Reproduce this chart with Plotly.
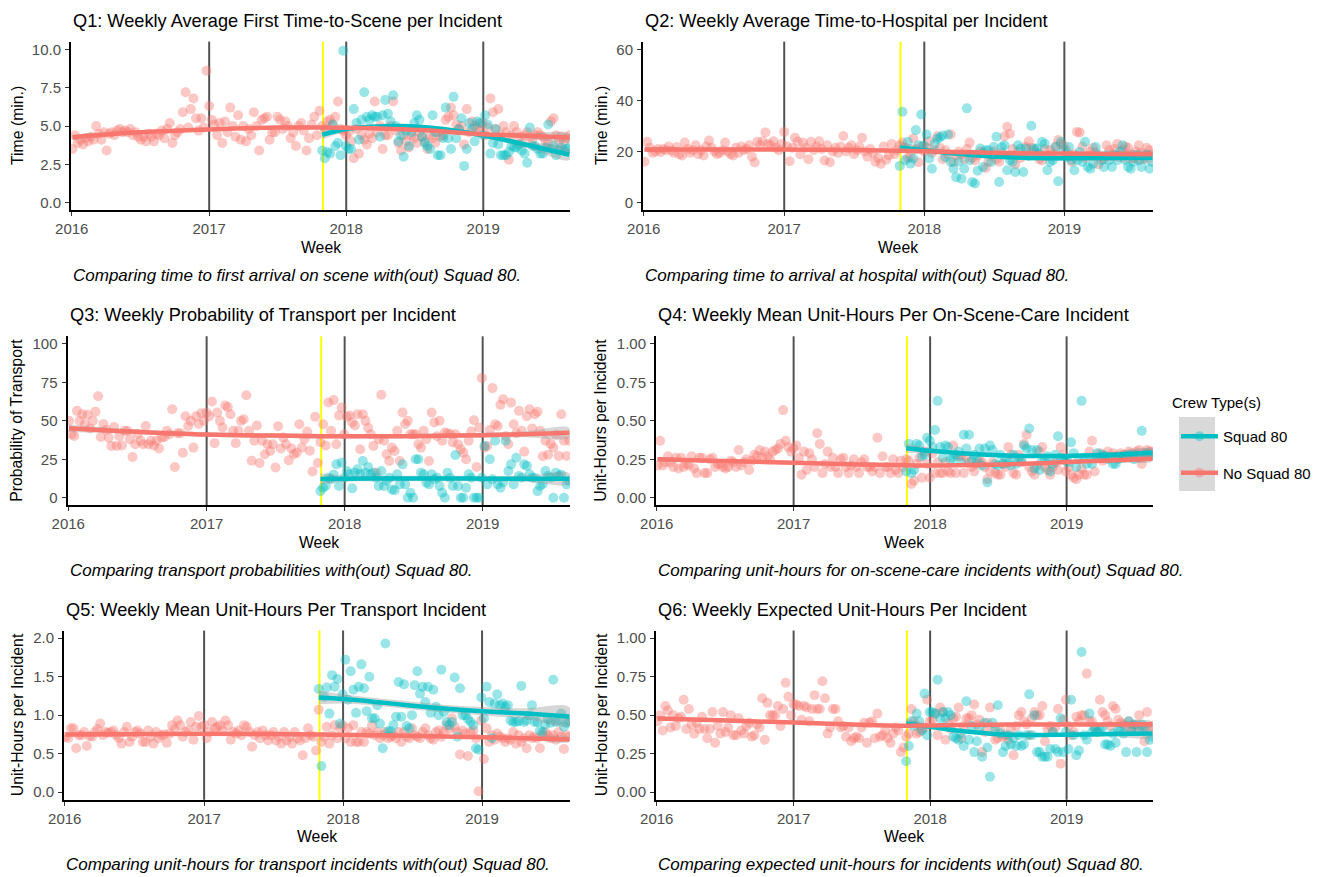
import numpy as np
import pandas as pd
import plotly.graph_objects as go

# ---------------- data (weekly values) ----------------
week_start = "2016-01-03"
n_weeks = 190
squad_start_index = 95          # first week with Squad 80 data
squad_start_date = "2017-10-31"
year_ticks = ["2016-01-01", "2017-01-01", "2018-01-01", "2019-01-01"]
year_labels = ["2016", "2017", "2018", "2019"]
year_lines = ["2017-01-01", "2018-01-01", "2019-01-01"]

q1_no_squad = [3.5, 4.4, 3.9, 4.1, 3.8, 4.2, 4.0, 4.3, 4.1, 5.0,
               4.5, 4.1, 4.6, 3.4, 4.5, 4.6, 4.4, 4.7, 4.8, 4.6,
               4.7, 4.6, 4.8, 4.4, 4.6, 4.3, 4.1, 4.3, 4.0, 4.5,
               4.3, 4.0, 4.5, 4.4, 4.7, 4.2, 4.8, 5.2, 3.9, 4.4,
               4.6, 4.8, 5.9, 7.2, 4.9, 6.1, 6.8, 5.5, 4.7, 5.5, 4.9, 8.6,
               6.3, 5.4, 5.1, 4.4, 5.2, 3.9, 5.3, 4.6, 6.2, 5.0,
               4.3, 5.7, 4.1, 5.0, 4.0, 4.8, 4.4, 5.9, 5.0, 3.4,
               5.4, 5.5, 5.6, 4.1, 4.6, 4.6, 5.6, 5.4, 4.8, 5.3,
               5.0, 4.2, 4.6, 3.7, 5.0, 5.2, 4.7, 3.4, 4.2, 5.1,
               5.6, 4.4, 6.0, 5.0, 4.8, 5.3, 5.4, 5.1, 5.6, 6.6, 4.8, 4.7,
               4.4, 4.6, 4.0, 2.9, 4.8, 3.2, 4.4, 4.1, 3.8, 4.5,
               4.2, 6.6, 4.6, 5.0, 3.5, 4.4, 4.4, 5.0, 6.6, 4.7,
               3.9, 3.4, 4.4, 4.0, 3.6, 4.4, 4.2, 3.9, 4.6, 4.3,
               4.0, 3.5, 4.4, 4.2, 3.9, 4.6, 4.3, 4.4, 5.4, 5.6, 6.2, 5.7,
               5.1, 4.8, 5.0, 3.8, 6.1, 4.6, 5.3, 5.0, 4.9, 4.7,
               5.2, 4.4, 4.9, 6.8, 5.9, 4.8, 6.1, 4.4, 5.0, 4.6,
               2.8, 4.4, 5.0, 4.6, 4.3, 3.9, 4.4, 4.6, 4.3, 4.1,
               4.4, 4.6, 4.4, 4.3, 4.0, 3.9, 5.3, 5.5, 4.4, 3.9, 4.3, 4.0, 4.2, 4.4]
q1_squad = [3.4, 2.9, 3.3, 3.2, 5.1, 3.7, 3.9, 3.1, 9.9, 3.7,
            3.5, 3.5, 6.1, 5.2, 4.1, 5.4, 7.2, 5.6, 5.4, 5.7,
            5.6, 5.6, 4.3, 5.7, 6.7, 5.8, 5.3, 7.0, 5.0, 4.0,
            4.4, 3.0, 4.7, 3.7, 4.6, 5.2, 5.7, 5.4, 4.3, 3.9,
            3.7, 3.5, 5.7, 4.6, 3.1, 3.1, 4.2, 6.2, 4.2, 3.5,
            6.9, 4.2, 4.8, 5.5, 2.4, 3.5, 5.2, 4.8, 4.0, 5.3,
            5.2, 4.4, 5.7, 5.1, 3.2, 3.9, 4.8, 3.8, 3.1, 3.1,
            3.1, 3.3, 3.7, 3.6, 3.6, 3.8, 3.4, 3.2, 2.6, 4.9,
            3.7, 3.7, 3.5, 3.2, 3.2, 3.6, 5.1, 3.5, 3.7, 3.1, 3.4, 3.6, 3.4, 3.5, 3.6]

q2_no_squad = [16.0, 23.8, 21.5, 19.5, 20.0, 21.0, 19.8, 21.0, 20.5, 22.0,
               20.3, 19.5, 21.8, 19.0, 18.5, 23.5, 21.0, 19.5, 20.5, 22.5,
               19.0, 20.5, 18.5, 22.0, 24.3, 21.5, 20.0, 19.0, 19.5, 20.5,
               23.5, 20.0, 19.0, 18.5, 21.5, 19.5, 22.0, 20.5, 21.0, 22.5,
               18.0, 15.7, 23.8, 22.5, 24.0, 27.5, 23.0, 22.5, 24.0, 21.5, 20.5, 23.0,
               27.7, 22.0, 16.2, 21.5, 25.4, 23.8, 19.0, 23.5, 21.5, 17.0,
               23.8, 20.5, 22.0, 24.0, 21.0, 16.5, 22.5, 15.8, 20.0, 21.5,
               19.5, 22.0, 26.1, 20.0, 21.5, 22.5, 19.0, 20.5, 22.0, 25.4,
               20.0, 18.0, 21.0, 19.5, 16.0, 17.5, 15.2, 22.0, 16.8, 18.5,
               23.0, 19.0, 20.5, 22.5, 23.5, 21.5, 17.5, 18.0, 25.1, 21.0, 15.8, 22.0,
               20.0, 21.5, 24.0, 19.5, 20.5, 26.0, 21.5, 17.0, 20.5, 19.0,
               26.7, 15.8, 18.5, 20.0, 19.0, 17.0, 21.0, 23.5, 17.5, 16.5,
               18.5, 20.0, 19.5, 13.6, 16.0, 18.5, 20.0, 17.0, 16.0, 19.5,
               26.0, 29.7, 27.0, 21.0, 15.0, 20.0, 17.5, 18.5, 22.0, 24.0, 21.5, 20.5,
               19.0, 17.0, 16.5, 21.0, 18.5, 20.5, 19.0, 22.0, 24.5, 23.0,
               22.5, 20.5, 18.5, 16.0, 19.0, 27.7, 27.5, 22.0, 17.5, 18.5,
               20.0, 21.5, 19.5, 15.0, 18.0, 17.0, 22.5, 20.5, 19.0, 21.0,
               23.0, 18.5, 20.5, 22.0, 21.5, 19.0, 17.5, 20.0, 22.5, 19.5, 18.0, 21.5, 20.5, 19.0]
q2_squad = [14.4, 35.6, 16.6, 23.8, 15.3, 17.3, 28.4, 22.5, 34.5, 22.5,
            26.7, 17.3, 13.3, 23.0, 25.0, 25.6, 26.3, 17.8, 26.7, 15.9,
            13.3, 10.0, 16.1, 9.4, 13.3, 36.9, 16.6, 8.1, 7.5, 12.5,
            21.2, 14.0, 20.5, 20.5, 15.9, 21.8, 25.8, 8.1, 21.8, 22.5,
            12.7, 16.6, 15.9, 12.0, 22.5, 21.2, 12.0, 21.2, 18.3, 30.1,
            21.2, 21.2, 19.3, 23.8, 23.0, 12.7, 15.9, 16.6, 21.8, 8.4,
            23.8, 20.5, 17.9, 21.8, 16.6, 12.7, 16.6, 19.9, 15.9, 23.8,
            14.0, 13.3, 15.3, 21.8, 18.6, 16.6, 14.0, 18.6, 16.6, 14.0,
            18.6, 16.6, 19.9, 22.5, 16.6, 14.0, 13.3, 15.9, 18.6, 16.6, 14.0, 17.3, 18.6, 13.3, 15.9]

q3_no_squad = [50.0, 41.3, 40.2, 56.5, 50.0, 54.3, 47.8, 54.0, 45.0, 50.0,
               56.0, 66.0, 39.5, 48.0, 44.0, 39.1, 33.7, 46.0, 33.7, 40.0,
               34.0, 43.5, 43.5, 38.0, 26.5, 34.8, 41.3, 37.0, 34.8, 46.7,
               34.8, 37.0, 34.0, 37.0, 32.0, 39.1, 39.5, 43.5, 41.3, 57.6,
               20.0, 42.0, 42.0, 29.3, 53.0, 46.7, 50.0, 32.6, 53.0, 48.0, 55.0, 50.0,
               55.4, 53.0, 62.6, 35.5, 55.4, 50.0, 45.7, 60.0, 59.0, 54.3,
               43.5, 35.5, 43.5, 50.0, 51.0, 66.7, 43.5, 24.0, 37.0, 47.0,
               22.5, 37.0, 28.3, 34.8, 30.4, 34.8, 19.6, 46.5, 32.0, 39.1,
               34.8, 24.3, 32.0, 28.3, 29.3, 47.8, 32.6, 38.0, 43.0, 30.5,
               17.0, 52.6, 22.6, 36.0, 47.8, 34.0, 62.0, 43.5, 63.5, 34.8, 53.5, 58.7,
               41.3, 52.6, 53.5, 48.9, 47.0, 54.3, 31.5, 54.3, 50.0, 45.5,
               41.3, 33.7, 16.3, 38.0, 67.0, 37.0, 28.3, 23.9, 32.6, 30.4,
               43.5, 23.9, 55.4, 48.0, 50.0, 41.3, 41.3, 41.3, 34.8, 32.6,
               43.5, 38.0, 23.9, 55.4, 48.9, 40.0, 50.0, 37.0, 42.4, 42.0, 41.3, 36.0,
               41.3, 34.8, 31.5, 29.3, 25.0, 37.0, 43.0, 50.4, 20.0, 45.7,
               77.8, 32.6, 33.7, 44.1, 71.3, 47.8, 46.7, 60.4, 64.0, 40.0,
               34.8, 62.0, 47.8, 42.0, 56.5, 43.5, 30.0, 53.0, 57.6, 45.0,
               54.3, 56.0, 43.5, 27.0, 37.0, 28.0, 35.0, 32.6, 41.0, 27.2, 54.3, 37.0, 27.2, 37.0]
q3_squad = [4.3, 6.5, 7.6, 13.0, 12.0, 15.0, 21.7, 7.6, 22.8, 13.0, 17.4,
            15.2, 6.1, 16.3, 18.5, 15.5, 23.9, 16.3, 20.0, 15.2, 16.3,
            13.0, 7.6, 17.4, 7.6, 10.9, 13.0, 5.4, 4.8, 15.2, 8.7,
            21.7, 8.7, 0.0, 3.3, 0.0, 25.0, 25.0, 16.3, 15.2, 9.8,
            8.7, 15.2, 12.0, 13.0, 7.6, 3.3, 0.0, 16.3, 13.0, 7.6,
            27.8, 7.6, 0.0, 0.0, 6.5, 15.2, 13.0, 0.0, 0.0, 0.0,
            13.0, 33.7, 8.7, 25.0, 12.0, 37.0, 8.7, 6.5, 10.0, 37.0,
            17.4, 21.7, 8.7, 26.0, 14.1, 13.0, 21.7, 20.7, 15.2, 13.0,
            13.0, 4.3, 7.6, 9.0, 17.4, 14.1, 13.0, 0.0, 16.3, 14.1, 15.0, 0.0, 8.7, 10.9]

q4_no_squad = [0.21, 0.37, 0.21, 0.23, 0.27, 0.23, 0.20, 0.26, 0.19, 0.26,
               0.20, 0.22, 0.21, 0.27, 0.19, 0.16, 0.26, 0.26, 0.16, 0.16,
               0.25, 0.26, 0.20, 0.22, 0.22, 0.20, 0.19, 0.20, 0.24, 0.23,
               0.20, 0.31, 0.21, 0.23, 0.25, 0.18, 0.24, 0.28, 0.27, 0.31,
               0.26, 0.30, 0.27, 0.25, 0.30, 0.31, 0.32, 0.35, 0.57, 0.37, 0.33, 0.30,
               0.32, 0.34, 0.26, 0.15, 0.30, 0.18, 0.29, 0.25, 0.20, 0.42,
               0.35, 0.16, 0.22, 0.30, 0.20, 0.26, 0.20, 0.16, 0.25, 0.26,
               0.20, 0.16, 0.21, 0.25, 0.20, 0.16, 0.23, 0.25, 0.20, 0.20,
               0.17, 0.20, 0.39, 0.16, 0.27, 0.20, 0.20, 0.16, 0.25, 0.18,
               0.16, 0.24, 0.20, 0.25, 0.24, 0.09, 0.11, 0.22, 0.26, 0.13, 0.30, 0.22,
               0.13, 0.29, 0.16, 0.23, 0.16, 0.16, 0.23, 0.17, 0.16, 0.34,
               0.16, 0.27, 0.27, 0.16, 0.26, 0.23, 0.20, 0.17, 0.22, 0.24,
               0.23, 0.20, 0.12, 0.17, 0.23, 0.16, 0.15, 0.15, 0.22, 0.20,
               0.33, 0.28, 0.16, 0.15, 0.28, 0.23, 0.35, 0.41, 0.20, 0.17, 0.15, 0.21,
               0.30, 0.33, 0.20, 0.18, 0.15, 0.20, 0.23, 0.18, 0.33, 0.28,
               0.17, 0.20, 0.15, 0.13, 0.12, 0.15, 0.19, 0.15, 0.15, 0.30,
               0.37, 0.17, 0.26, 0.29, 0.24, 0.27, 0.30, 0.26, 0.29, 0.27,
               0.26, 0.29, 0.28, 0.26, 0.30, 0.29, 0.28, 0.30, 0.31, 0.22, 0.29, 0.31, 0.30, 0.30]
q4_squad = [0.17, 0.35, 0.16, 0.18, 0.35, 0.34, 0.27, 0.28, 0.39, 0.37,
            0.33, 0.44, 0.63, 0.33, 0.26, 0.34, 0.33, 0.25, 0.26, 0.28,
            0.30, 0.23, 0.41, 0.32, 0.41, 0.24, 0.28, 0.25, 0.32, 0.21,
            0.32, 0.10, 0.34, 0.31, 0.22, 0.21, 0.28, 0.22, 0.25, 0.23,
            0.21, 0.28, 0.22, 0.25, 0.24, 0.34, 0.32, 0.45, 0.31, 0.19,
            0.31, 0.18, 0.24, 0.25, 0.27, 0.17, 0.22, 0.28, 0.40, 0.26,
            0.25, 0.24, 0.23, 0.36, 0.29, 0.20, 0.25, 0.63, 0.26, 0.22,
            0.26, 0.22, 0.26, 0.29, 0.26, 0.28, 0.27, 0.25, 0.26, 0.22,
            0.22, 0.25, 0.26, 0.26, 0.27, 0.28, 0.27, 0.25, 0.28, 0.26, 0.435, 0.28, 0.29, 0.27, 0.28]

q5_no_squad = [0.72, 0.70, 0.83, 0.83, 0.57, 0.74, 0.74, 0.78, 0.60, 0.73,
               0.72, 0.78, 0.82, 0.89, 0.74, 0.78, 0.77, 0.78, 0.80, 0.74,
               0.70, 0.63, 0.78, 0.85, 0.65, 0.72, 0.78, 0.80, 0.76, 0.65,
               0.65, 0.80, 0.72, 0.63, 0.78, 0.70, 0.74, 0.75, 0.64, 0.76,
               0.87, 0.82, 0.93, 0.87, 0.72, 0.78, 0.80, 0.91, 0.68, 0.85, 0.99, 0.85,
               0.87, 0.70, 0.78, 0.91, 0.83, 0.85, 0.87, 0.80, 0.93, 0.87,
               0.68, 0.78, 0.76, 0.80, 0.74, 0.87, 0.85, 0.78, 0.59, 0.74,
               0.78, 0.70, 0.80, 0.74, 0.67, 0.74, 0.78, 0.67, 0.72, 0.63,
               0.78, 0.67, 0.72, 0.63, 0.78, 0.70, 0.67, 0.48, 0.70, 0.83,
               0.74, 0.72, 0.54, 1.07, 0.65, 0.72, 0.85, 0.63, 0.74, 0.87, 0.70, 0.83,
               0.87, 0.70, 0.83, 0.65, 0.87, 0.65, 0.65, 0.78, 0.65, 0.78,
               0.76, 0.87, 0.74, 0.78, 0.70, 0.74, 0.78, 0.70, 0.72, 0.74,
               0.70, 0.78, 0.65, 0.78, 0.72, 0.70, 0.83, 0.74, 0.72, 0.70,
               0.78, 0.83, 0.74, 0.70, 0.68, 0.78, 0.80, 0.72, 0.78, 0.87, 0.82, 0.96,
               0.85, 0.78, 0.49, 0.80, 0.76, 0.47, 0.78, 0.80, 0.70, 0.01,
               0.93, 0.43, 0.83, 0.65, 0.74, 0.68, 0.76, 0.72, 0.70, 0.65,
               0.70, 0.68, 0.78, 0.63, 0.74, 0.65, 0.70, 0.57, 0.74, 0.70,
               0.72, 0.70, 0.57, 0.74, 0.78, 0.74, 0.70, 0.74, 0.68, 0.78, 0.72, 0.56, 0.74, 0.72]
q5_squad = [1.34, 0.34, 1.24, 1.36, 1.02, 1.52, 1.37, 1.47, 0.89, 1.27,
            1.72, 1.20, 1.57, 1.33, 1.03, 1.37, 1.66, 1.35, 1.05, 1.50,
            0.96, 0.96, 1.13, 0.89, 0.57, 1.93, 0.79, 0.79, 0.87, 0.98,
            1.43, 0.98, 1.40, 0.86, 0.83, 1.00, 1.39, 1.57, 1.28, 1.37,
            1.17, 1.37, 1.03, 1.33, 1.11, 1.00, 1.59, 1.04, 0.91, 0.87,
            0.91, 1.49, 0.72, 1.35, 1.00, 1.00, 0.95, 0.91, 0.87, 0.57,
            0.55, 1.23, 0.96, 1.37, 1.17, 0.70, 1.15, 1.27, 1.13, 1.15,
            1.11, 1.13, 0.93, 0.91, 0.91, 0.92, 1.38, 0.91, 0.93, 1.00,
            1.13, 0.91, 0.91, 0.80, 0.78, 0.88, 0.95, 0.90, 1.46, 0.91, 0.93, 1.02, 0.85, 0.90, 0.92]

q6_no_squad = [0.46, 0.50, 0.40, 0.56, 0.53, 0.42, 0.50, 0.43, 0.48, 0.49,
               0.60, 0.41, 0.54, 0.44, 0.38, 0.45, 0.41, 0.49, 0.41, 0.35,
               0.41, 0.52, 0.32, 0.43, 0.38, 0.52, 0.39, 0.42, 0.50, 0.37,
               0.37, 0.48, 0.40, 0.38, 0.43, 0.45, 0.36, 0.37, 0.44, 0.42,
               0.61, 0.34, 0.58, 0.50, 0.50, 0.50, 0.56, 0.43, 0.54, 0.71, 0.62, 0.50,
               0.57, 0.57, 0.56, 0.47, 0.56, 0.55, 0.46, 0.54, 0.63, 0.54,
               0.54, 0.72, 0.61, 0.38, 0.42, 0.54, 0.54, 0.46, 0.42, 0.43,
               0.36, 0.42, 0.33, 0.35, 0.36, 0.35, 0.42, 0.45, 0.32, 0.45,
               0.46, 0.35, 0.51, 0.36, 0.37, 0.40, 0.35, 0.32, 0.38, 0.42,
               0.40, 0.26, 0.29, 0.36, 0.38, 0.54, 0.46, 0.38, 0.39, 0.41, 0.42, 0.60,
               0.46, 0.47, 0.51, 0.37, 0.55, 0.52, 0.34, 0.45, 0.41, 0.48,
               0.49, 0.55, 0.35, 0.43, 0.48, 0.48, 0.50, 0.57, 0.44, 0.47,
               0.26, 0.39, 0.45, 0.55, 0.42, 0.34, 0.35, 0.40, 0.36, 0.37,
               0.34, 0.41, 0.24, 0.43, 0.50, 0.52, 0.46, 0.44, 0.37, 0.48, 0.52, 0.50,
               0.50, 0.56, 0.33, 0.41, 0.43, 0.39, 0.42, 0.54, 0.185, 0.47,
               0.60, 0.43, 0.37, 0.39, 0.49, 0.46, 0.50, 0.50, 0.77, 0.46,
               0.46, 0.42, 0.39, 0.60, 0.52, 0.50, 0.46, 0.43, 0.56, 0.54,
               0.47, 0.45, 0.44, 0.43, 0.46, 0.41, 0.43, 0.44, 0.50, 0.42, 0.33, 0.52, 0.41, 0.43]
q6_squad = [0.20, 0.30, 0.46, 0.43, 0.51, 0.46, 0.40, 0.64, 0.37, 0.52,
            0.52, 0.51, 0.73, 0.48, 0.52, 0.48, 0.52, 0.50, 0.36, 0.35,
            0.34, 0.38, 0.30, 0.59, 0.34, 0.43, 0.26, 0.33, 0.41, 0.23,
            0.45, 0.29, 0.10, 0.45, 0.41, 0.565, 0.38, 0.26, 0.30, 0.37,
            0.31, 0.35, 0.30, 0.37, 0.30, 0.31, 0.37, 0.635, 0.37, 0.50,
            0.26, 0.26, 0.23, 0.23, 0.23, 0.28, 0.39, 0.28, 0.26, 0.48,
            0.26, 0.39, 0.28, 0.60, 0.37, 0.24, 0.27, 0.91, 0.37, 0.34,
            0.51, 0.39, 0.41, 0.39, 0.41, 0.42, 0.31, 0.31, 0.30, 0.38,
            0.32, 0.40, 0.41, 0.38, 0.26, 0.46, 0.40, 0.44, 0.26, 0.40, 0.44, 0.42, 0.26, 0.34, 0.36]

# smoothed trend (loess) values and confidence half-widths
fit_dates_no_squad = ["2016-01-03", "2016-05-26", "2017-01-01", "2017-06-29", "2017-10-31",
                      "2018-01-01", "2018-05-05", "2018-08-02", "2019-01-01", "2019-04-25",
                      "2019-08-18"]
fit_dates_squad = ["2017-10-29", "2018-01-01", "2018-03-22", "2018-06-19", "2018-09-15",
                   "2019-01-01", "2019-04-25", "2019-08-18"]
q1_fit_no_squad = [4.27, 4.55, 4.78, 4.90, 4.90, 4.88, 4.81, 4.72, 4.46, 4.36, 4.25]
q1_band_no_squad = [0.18, 0.10, 0.09, 0.10, 0.10, 0.10, 0.10, 0.11, 0.12, 0.15, 0.25]
q1_fit_squad = [4.42, 4.80, 4.97, 4.98, 4.80, 4.38, 3.78, 3.13]
q1_band_squad = [0.30, 0.18, 0.15, 0.15, 0.15, 0.17, 0.20, 0.35]
q2_fit_no_squad = [20.8, 20.8, 20.8, 20.6, 20.3, 20.1, 19.7, 19.4, 19.2, 19.1, 19.1]
q2_band_no_squad = [0.9, 0.6, 0.5, 0.5, 0.5, 0.5, 0.5, 0.5, 0.6, 0.7, 1.0]
q2_fit_squad = [21.6, 20.5, 19.2, 18.2, 17.6, 17.4, 17.5, 17.6]
q2_band_squad = [2.2, 1.3, 1.0, 1.0, 1.0, 1.0, 1.2, 1.8]
q3_fit_no_squad = [45.2, 43.3, 41.1, 40.4, 40.0, 40.0, 40.0, 40.1, 40.7, 41.3, 42.2]
q3_band_no_squad = [2.5, 1.6, 1.5, 1.5, 1.5, 1.5, 1.5, 1.5, 1.6, 2.0, 3.2]
q3_fit_squad = [12.2, 12.4, 12.5, 12.5, 12.5, 12.4, 12.4, 12.4]
q3_band_squad = [3.5, 2.0, 1.8, 1.8, 1.8, 1.8, 2.0, 3.5]
q4_fit_no_squad = [0.250, 0.241, 0.227, 0.216, 0.211, 0.209, 0.213, 0.217, 0.232, 0.242, 0.254]
q4_band_no_squad = [0.015, 0.009, 0.008, 0.008, 0.008, 0.008, 0.008, 0.008, 0.009, 0.010, 0.016]
q4_fit_squad = [0.322, 0.305, 0.290, 0.278, 0.272, 0.272, 0.280, 0.293]
q4_band_squad = [0.030, 0.016, 0.012, 0.012, 0.012, 0.012, 0.014, 0.025]
q5_fit_no_squad = [0.748, 0.752, 0.757, 0.754, 0.748, 0.745, 0.735, 0.728, 0.713, 0.700, 0.683]
q5_band_no_squad = [0.025, 0.015, 0.013, 0.013, 0.014, 0.014, 0.014, 0.014, 0.015, 0.018, 0.030]
q5_fit_squad = [1.23, 1.21, 1.175, 1.13, 1.09, 1.052, 1.02, 0.983]
q5_band_squad = [0.09, 0.06, 0.05, 0.05, 0.05, 0.055, 0.07, 0.12]
q6_fit_no_squad = [0.478, 0.468, 0.452, 0.438, 0.431, 0.433, 0.437, 0.439, 0.439, 0.440, 0.441]
q6_band_no_squad = [0.015, 0.010, 0.009, 0.009, 0.009, 0.009, 0.009, 0.009, 0.010, 0.012, 0.018]
q6_fit_squad = [0.446, 0.425, 0.398, 0.378, 0.371, 0.373, 0.377, 0.380]
q6_band_squad = [0.030, 0.016, 0.013, 0.013, 0.013, 0.013, 0.015, 0.022]

titles = ["Q1: Weekly Average First Time-to-Scene per Incident",
          "Q2: Weekly Average Time-to-Hospital per Incident",
          "Q3: Weekly Probability of Transport per Incident",
          "Q4: Weekly Mean Unit-Hours Per On-Scene-Care Incident",
          "Q5: Weekly Mean Unit-Hours Per Transport Incident",
          "Q6: Weekly Expected Unit-Hours Per Incident"]
captions = ["Comparing time to first arrival on scene with(out) Squad 80.",
            "Comparing time to arrival at hospital with(out) Squad 80.",
            "Comparing transport probabilities with(out) Squad 80.",
            "Comparing unit-hours for on-scene-care incidents with(out) Squad 80.",
            "Comparing unit-hours for transport incidents with(out) Squad 80.",
            "Comparing expected unit-hours for incidents with(out) Squad 80."]
y_titles = ["Time (min.)", "Time (min.)", "Probability of Transport",
            "Unit-Hours per Incident", "Unit-Hours per Incident", "Unit-Hours per Incident"]
y_tick_values = [[0, 2.5, 5, 7.5, 10], [0, 20, 40, 60], [0, 25, 50, 75, 100],
                 [0, 0.25, 0.5, 0.75, 1], [0, 0.5, 1, 1.5, 2], [0, 0.25, 0.5, 0.75, 1]]
y_tick_labels = [["0.0", "2.5", "5.0", "7.5", "10.0"], ["0", "20", "40", "60"],
                 ["0", "25", "50", "75", "100"], ["0.00", "0.25", "0.50", "0.75", "1.00"],
                 ["0.0", "0.5", "1.0", "1.5", "2.0"], ["0.00", "0.25", "0.50", "0.75", "1.00"]]
y_limits = [[0, 10], [0, 60], [0, 100], [0, 1], [0, 2], [0, 1]]
no_squad_series = [q1_no_squad, q2_no_squad, q3_no_squad, q4_no_squad, q5_no_squad, q6_no_squad]
squad_series = [q1_squad, q2_squad, q3_squad, q4_squad, q5_squad, q6_squad]
no_squad_fits = [q1_fit_no_squad, q2_fit_no_squad, q3_fit_no_squad, q4_fit_no_squad,
                 q5_fit_no_squad, q6_fit_no_squad]
no_squad_bands = [q1_band_no_squad, q2_band_no_squad, q3_band_no_squad, q4_band_no_squad,
                  q5_band_no_squad, q6_band_no_squad]
squad_fits = [q1_fit_squad, q2_fit_squad, q3_fit_squad, q4_fit_squad, q5_fit_squad, q6_fit_squad]
squad_bands = [q1_band_squad, q2_band_squad, q3_band_squad, q4_band_squad, q5_band_squad,
               q6_band_squad]
legend_title = "Crew Type(s)"
legend_names = ["Squad 80", "No Squad 80"]

# ---------------- styling / layout ----------------
W, H = 1323, 877
OX, OY = 8, 8   # page offset of the plot div
RED = "#F8766D"
CYAN = "#00BFC4"
RED_PT = "rgba(248,118,109,0.4)"
CYAN_PT = "rgba(0,191,196,0.4)"
RIBBON = "rgba(153,153,153,0.4)"
FONT = "Liberation Sans, Arial, sans-serif"
# plot boxes in screen pixels: (left, right, top, bottom)
boxes = [(71, 570, 41.6, 210.4), (643, 1153, 41.6, 210.4),
         (67.5, 570, 336.3, 505.4), (656, 1153, 336.3, 505.4),
         (64, 570, 630.5, 799.8), (656, 1153, 630.5, 799.8)]
y_title_x = [17, 601, 17, 601, 17, 601]
x_range = ["2015-12-30", "2019-08-20"]


def fx(px):
    return (px - OX) / W


def fy(py):
    return 1 - (py - OY) / H


weeks = pd.date_range(week_start, periods=n_weeks, freq="7D")

fig = go.Figure()
layout = dict(width=W, height=H, margin=dict(l=0, r=0, t=0, b=0, autoexpand=False),
              paper_bgcolor="white", plot_bgcolor="white",
              font=dict(family=FONT, color="black"), showlegend=True)
shapes = []
annotations = []
axis_common = dict(showgrid=False, zeroline=False, showline=True, linecolor="black",
                   linewidth=2, ticks="outside", ticklen=4, tickwidth=1.3,
                   tickcolor="#333333", automargin=False,
                   tickfont=dict(size=15, color="#4D4D4D", family=FONT))

for k in range(6):
    ax = "" if k == 0 else str(k + 1)
    xa, ya = "x" + ax, "y" + ax
    left, right, top, bottom = boxes[k]
    lo, hi = y_limits[k]
    pad = (hi - lo) * 0.05
    layout["xaxis" + ax] = dict(domain=[fx(left), fx(right)], anchor=ya, type="date",
                                range=x_range, tickvals=year_ticks, ticktext=year_labels,
                                ticklabelstandoff=0, **axis_common)
    layout["yaxis" + ax] = dict(domain=[fy(bottom), fy(top)], anchor=xa,
                                range=[lo - pad, hi + pad], tickvals=y_tick_values[k],
                                ticktext=y_tick_labels[k], ticklabelstandoff=1,
                                **axis_common)

    red_dates = weeks[:len(no_squad_series[k])]
    cyan_dates = weeks[squad_start_index:squad_start_index + len(squad_series[k])]

    fig.add_trace(go.Scatter(x=red_dates, y=no_squad_series[k], mode="markers",
                             marker=dict(color=RED_PT, size=10), xaxis=xa, yaxis=ya,
                             showlegend=False, hoverinfo="skip"))
    fig.add_trace(go.Scatter(x=cyan_dates, y=squad_series[k], mode="markers",
                             marker=dict(color=CYAN_PT, size=10), xaxis=xa, yaxis=ya,
                             showlegend=False, hoverinfo="skip"))

    for fdates, fit, band, col in [(fit_dates_squad, squad_fits[k], squad_bands[k], CYAN),
                                   (fit_dates_no_squad, no_squad_fits[k], no_squad_bands[k], RED)]:
        fit = np.array(fit, float)
        band = np.array(band, float)
        upper = fit + band
        lower = fit - band
        fig.add_trace(go.Scatter(x=list(fdates) + list(fdates[::-1]),
                                 y=list(upper) + list(lower[::-1]),
                                 fill="toself", fillcolor=RIBBON,
                                 line=dict(width=0, shape="spline"),
                                 mode="lines", xaxis=xa, yaxis=ya, showlegend=False,
                                 hoverinfo="skip"))
        fig.add_trace(go.Scatter(x=fdates, y=fit, mode="lines",
                                 line=dict(color=col, width=4.5, shape="spline"),
                                 xaxis=xa, yaxis=ya, showlegend=False, hoverinfo="skip"))

    for d in year_lines:
        shapes.append(dict(type="line", xref=xa, yref=ya + " domain", x0=d, x1=d, y0=0, y1=1,
                           line=dict(color="rgba(0,0,0,0.68)", width=2), layer="below"))
    shapes.append(dict(type="line", xref=xa, yref=ya + " domain", x0=squad_start_date,
                       x1=squad_start_date, y0=0, y1=1,
                       line=dict(color="#FFFF00", width=2), layer="below"))

    annotations.append(dict(text=titles[k], xref="paper", yref="paper", x=fx(left),
                            y=fy(top - 21), xanchor="left", yanchor="middle",
                            showarrow=False, font=dict(size=18.2, color="black", family=FONT)))
    annotations.append(dict(text="<i>" + captions[k] + "</i>", xref="paper", yref="paper",
                            x=fx(left), y=fy(bottom + 65), xanchor="left",
                            yanchor="middle", showarrow=False,
                            font=dict(size=17, color="black", family=FONT)))
    annotations.append(dict(text="Week", xref="paper", yref="paper", x=fx((left + right) / 2),
                            y=fy(bottom + 37), xanchor="center", yanchor="middle",
                            showarrow=False, font=dict(size=15.8, color="black", family=FONT)))
    annotations.append(dict(text=y_titles[k], xref="paper", yref="paper", x=fx(y_title_x[k]),
                            y=fy((top + bottom) / 2), xanchor="center", yanchor="middle",
                            textangle=-90, showarrow=False,
                            font=dict(size=15.8, color="black", family=FONT)))

# legend entries (no data; they only carry the key styling)
for name, col, pt in [(legend_names[0], CYAN, CYAN_PT), (legend_names[1], RED, RED_PT)]:
    fig.add_trace(go.Scatter(x=[None], y=[None], mode="lines+markers", name=name,
                             line=dict(color=col, width=4.5),
                             marker=dict(color=pt, size=10), xaxis="x4", yaxis="y4",
                             legendgroup=name, hoverinfo="skip"))

shapes.append(dict(type="rect", xref="paper", yref="paper", x0=fx(1179), x1=fx(1215),
                   y0=fy(491), y1=fy(417), fillcolor="#D9D9D9",
                   line=dict(width=0), layer="below"))
annotations.append(dict(text=legend_title, xref="paper", yref="paper", x=fx(1170), y=fy(403),
                        xanchor="left", yanchor="middle", showarrow=False,
                        font=dict(size=15, color="black", family=FONT)))

layout["legend"] = dict(x=fx(1176), y=fy(420), xanchor="left", yanchor="top",
                        bgcolor="rgba(0,0,0,0)", tracegroupgap=14, traceorder="grouped",
                        itemwidth=37, font=dict(size=15, family=FONT, color="black"))
layout["shapes"] = shapes
layout["annotations"] = annotations
fig.update_layout(**layout)
fig.write_html("out.html")
